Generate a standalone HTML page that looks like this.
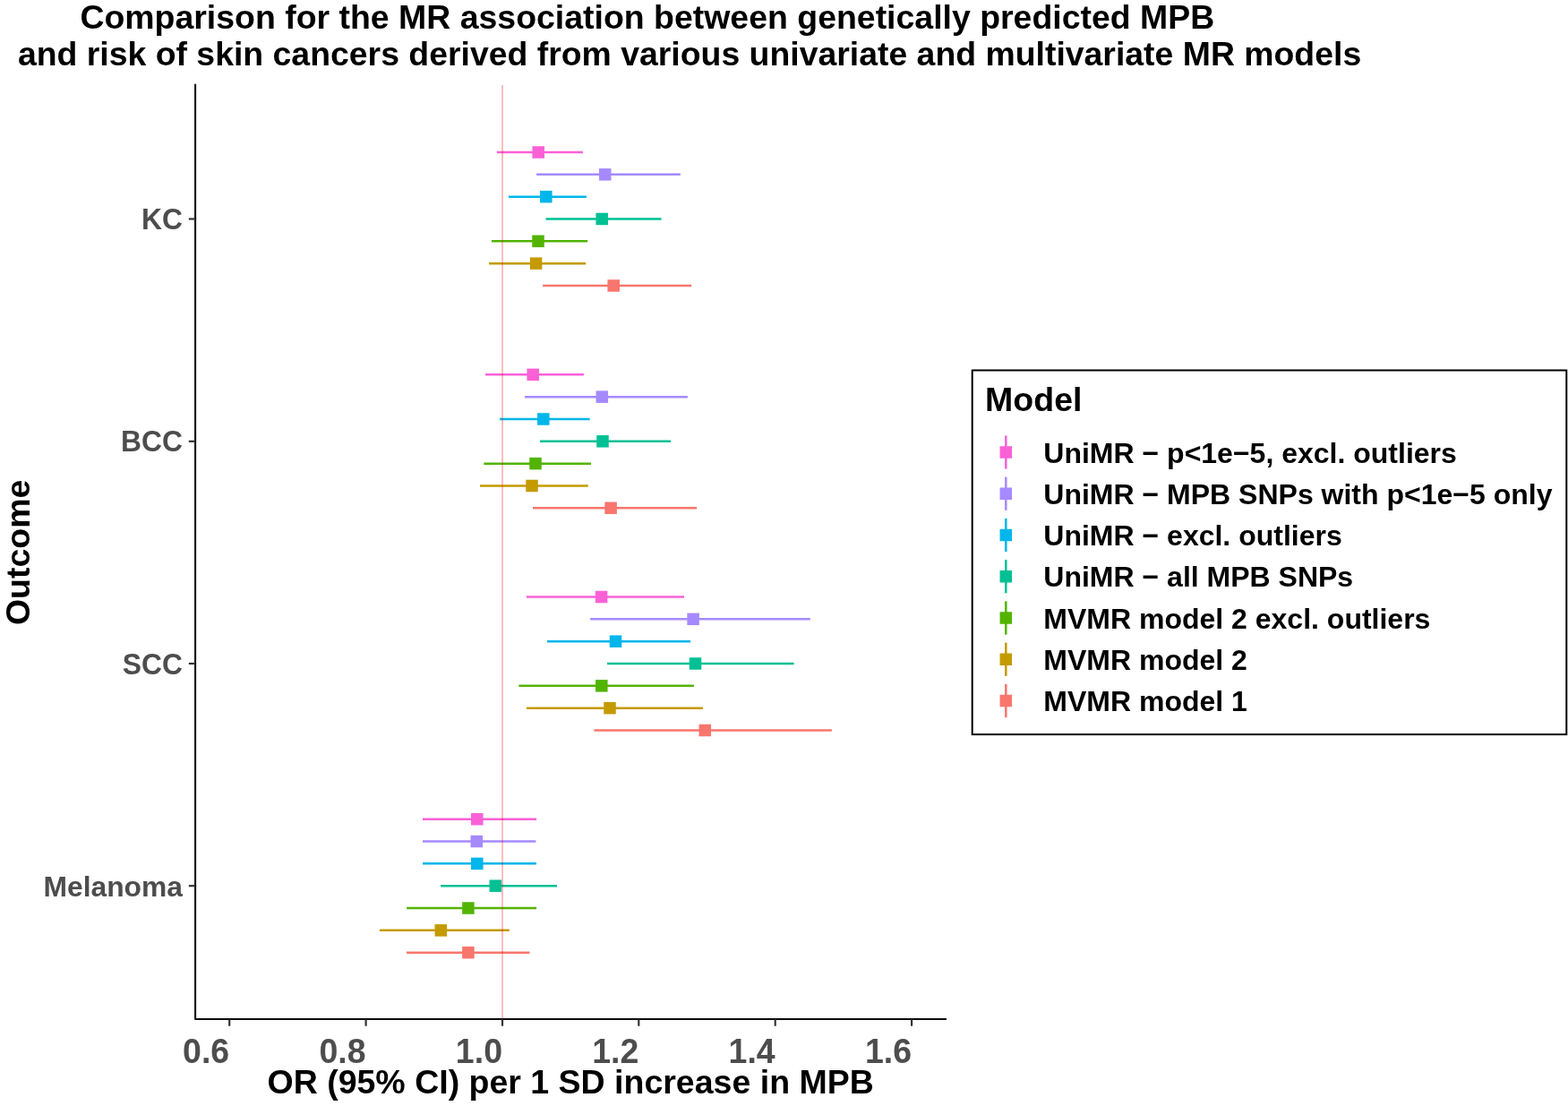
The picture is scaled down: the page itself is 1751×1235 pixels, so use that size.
<!DOCTYPE html><html><head><meta charset="utf-8"><title>MR forest plot</title><style>
html,body{margin:0;padding:0;background:#fff;}body{width:1751px;height:1235px;overflow:hidden;}
svg{display:block;}text{font-family:'Liberation Sans', Arial, Helvetica, sans-serif;font-weight:bold;}
</style></head><body>
<svg width="1751" height="1235" viewBox="0 0 1751 1235">
<rect x="0" y="0" width="1751" height="1235" fill="#fff"/>
<text x="89.4" y="32.4" font-size="37.45" fill="#000">Comparison for the MR association between genetically predicted MPB</text>
<text x="19.9" y="72.6" font-size="37.4" fill="#000">and risk of skin cancers derived from various univariate and multivariate MR models</text>
<g>
<line x1="554.9" y1="170.01" x2="650.9" y2="170.01" stroke="#FB61D7" stroke-width="2.50"/>
<line x1="599.1" y1="194.84" x2="759.8" y2="194.84" stroke="#A58AFF" stroke-width="2.50"/>
<line x1="567.9" y1="219.67" x2="654.9" y2="219.67" stroke="#00B6EB" stroke-width="2.50"/>
<line x1="609.5" y1="244.50" x2="738.5" y2="244.50" stroke="#00C094" stroke-width="2.50"/>
<line x1="549.0" y1="269.33" x2="656.2" y2="269.33" stroke="#53B400" stroke-width="2.50"/>
<line x1="546.1" y1="294.16" x2="654.1" y2="294.16" stroke="#C49A00" stroke-width="2.50"/>
<line x1="606.1" y1="318.99" x2="772.1" y2="318.99" stroke="#F8766D" stroke-width="2.50"/>
<line x1="542.1" y1="418.31" x2="651.9" y2="418.31" stroke="#FB61D7" stroke-width="2.50"/>
<line x1="586.1" y1="443.14" x2="767.9" y2="443.14" stroke="#A58AFF" stroke-width="2.50"/>
<line x1="557.9" y1="467.97" x2="658.6" y2="467.97" stroke="#00B6EB" stroke-width="2.50"/>
<line x1="602.9" y1="492.80" x2="749.1" y2="492.80" stroke="#00C094" stroke-width="2.50"/>
<line x1="540.3" y1="517.63" x2="660.0" y2="517.63" stroke="#53B400" stroke-width="2.50"/>
<line x1="536.0" y1="542.46" x2="656.8" y2="542.46" stroke="#C49A00" stroke-width="2.50"/>
<line x1="595.0" y1="567.29" x2="778.1" y2="567.29" stroke="#F8766D" stroke-width="2.50"/>
<line x1="588.0" y1="666.51" x2="764.0" y2="666.51" stroke="#FB61D7" stroke-width="2.50"/>
<line x1="659.1" y1="691.34" x2="904.8" y2="691.34" stroke="#A58AFF" stroke-width="2.50"/>
<line x1="611.0" y1="716.17" x2="771.0" y2="716.17" stroke="#00B6EB" stroke-width="2.50"/>
<line x1="678.1" y1="741.00" x2="886.6" y2="741.00" stroke="#00C094" stroke-width="2.50"/>
<line x1="579.4" y1="765.83" x2="774.9" y2="765.83" stroke="#53B400" stroke-width="2.50"/>
<line x1="588.0" y1="790.66" x2="784.9" y2="790.66" stroke="#C49A00" stroke-width="2.50"/>
<line x1="663.4" y1="815.49" x2="928.9" y2="815.49" stroke="#F8766D" stroke-width="2.50"/>
<line x1="472.0" y1="914.71" x2="599.0" y2="914.71" stroke="#FB61D7" stroke-width="2.50"/>
<line x1="472.0" y1="939.54" x2="598.4" y2="939.54" stroke="#A58AFF" stroke-width="2.50"/>
<line x1="472.0" y1="964.37" x2="599.0" y2="964.37" stroke="#00B6EB" stroke-width="2.50"/>
<line x1="492.1" y1="989.20" x2="622.0" y2="989.20" stroke="#00C094" stroke-width="2.50"/>
<line x1="454.1" y1="1014.03" x2="599.1" y2="1014.03" stroke="#53B400" stroke-width="2.50"/>
<line x1="423.9" y1="1038.86" x2="568.8" y2="1038.86" stroke="#C49A00" stroke-width="2.50"/>
<line x1="454.1" y1="1063.69" x2="591.5" y2="1063.69" stroke="#F8766D" stroke-width="2.50"/>
<rect x="594.45" y="163.26" width="13.50" height="13.50" fill="#FB61D7"/>
<rect x="668.95" y="188.09" width="13.50" height="13.50" fill="#A58AFF"/>
<rect x="603.05" y="212.92" width="13.50" height="13.50" fill="#00B6EB"/>
<rect x="665.45" y="237.75" width="13.50" height="13.50" fill="#00C094"/>
<rect x="594.25" y="262.58" width="13.50" height="13.50" fill="#53B400"/>
<rect x="591.85" y="287.41" width="13.50" height="13.50" fill="#C49A00"/>
<rect x="678.45" y="312.24" width="13.50" height="13.50" fill="#F8766D"/>
<rect x="588.45" y="411.56" width="13.50" height="13.50" fill="#FB61D7"/>
<rect x="665.55" y="436.39" width="13.50" height="13.50" fill="#A58AFF"/>
<rect x="600.05" y="461.22" width="13.50" height="13.50" fill="#00B6EB"/>
<rect x="666.25" y="486.05" width="13.50" height="13.50" fill="#00C094"/>
<rect x="591.25" y="510.88" width="13.50" height="13.50" fill="#53B400"/>
<rect x="587.25" y="535.71" width="13.50" height="13.50" fill="#C49A00"/>
<rect x="675.35" y="560.54" width="13.50" height="13.50" fill="#F8766D"/>
<rect x="664.85" y="659.76" width="13.50" height="13.50" fill="#FB61D7"/>
<rect x="767.35" y="684.59" width="13.50" height="13.50" fill="#A58AFF"/>
<rect x="680.75" y="709.42" width="13.50" height="13.50" fill="#00B6EB"/>
<rect x="769.75" y="734.25" width="13.50" height="13.50" fill="#00C094"/>
<rect x="665.05" y="759.08" width="13.50" height="13.50" fill="#53B400"/>
<rect x="674.25" y="783.91" width="13.50" height="13.50" fill="#C49A00"/>
<rect x="780.55" y="808.74" width="13.50" height="13.50" fill="#F8766D"/>
<rect x="526.05" y="907.96" width="13.50" height="13.50" fill="#FB61D7"/>
<rect x="525.55" y="932.79" width="13.50" height="13.50" fill="#A58AFF"/>
<rect x="526.05" y="957.62" width="13.50" height="13.50" fill="#00B6EB"/>
<rect x="546.55" y="982.45" width="13.50" height="13.50" fill="#00C094"/>
<rect x="516.15" y="1007.28" width="13.50" height="13.50" fill="#53B400"/>
<rect x="485.55" y="1032.11" width="13.50" height="13.50" fill="#C49A00"/>
<rect x="516.15" y="1056.94" width="13.50" height="13.50" fill="#F8766D"/>
</g>
<line x1="561.0" y1="95" x2="561.0" y2="1138" stroke="#ff0000" stroke-opacity="0.275" stroke-width="1.9"/>
<path d="M218.1 94.6 L218.1 1138 L1056.2 1138" fill="none" stroke="#000" stroke-width="2.05" stroke-linecap="round" stroke-linejoin="round"/>
<line x1="256.2" y1="1138" x2="256.2" y2="1145.7" stroke="#333" stroke-width="2.2"/>
<text transform="translate(256.2 1186.9) scale(1 1.035)" font-size="37.5" fill="#4D4D4D" text-anchor="end">0.6</text>
<line x1="408.6" y1="1138" x2="408.6" y2="1145.7" stroke="#333" stroke-width="2.2"/>
<text transform="translate(408.6 1186.9) scale(1 1.035)" font-size="37.5" fill="#4D4D4D" text-anchor="end">0.8</text>
<line x1="561.0" y1="1138" x2="561.0" y2="1145.7" stroke="#333" stroke-width="2.2"/>
<text transform="translate(561.0 1186.9) scale(1 1.035)" font-size="37.5" fill="#4D4D4D" text-anchor="end">1.0</text>
<line x1="713.3" y1="1138" x2="713.3" y2="1145.7" stroke="#333" stroke-width="2.2"/>
<text transform="translate(713.3 1186.9) scale(1 1.035)" font-size="37.5" fill="#4D4D4D" text-anchor="end">1.2</text>
<line x1="865.7" y1="1138" x2="865.7" y2="1145.7" stroke="#333" stroke-width="2.2"/>
<text transform="translate(865.7 1186.9) scale(1 1.035)" font-size="37.5" fill="#4D4D4D" text-anchor="end">1.4</text>
<line x1="1018.1" y1="1138" x2="1018.1" y2="1145.7" stroke="#333" stroke-width="2.2"/>
<text transform="translate(1018.1 1186.9) scale(1 1.035)" font-size="37.5" fill="#4D4D4D" text-anchor="end">1.6</text>
<line x1="210.8" y1="244.5" x2="218" y2="244.5" stroke="#333" stroke-width="2.2"/>
<text transform="translate(204 256.0) scale(1 1.035)" font-size="31.8" fill="#4D4D4D" text-anchor="end">KC</text>
<line x1="210.8" y1="492.8" x2="218" y2="492.8" stroke="#333" stroke-width="2.2"/>
<text transform="translate(204 504.3) scale(1 1.035)" font-size="31.8" fill="#4D4D4D" text-anchor="end">BCC</text>
<line x1="210.8" y1="741.0" x2="218" y2="741.0" stroke="#333" stroke-width="2.2"/>
<text transform="translate(204 752.5) scale(1 1.035)" font-size="31.8" fill="#4D4D4D" text-anchor="end">SCC</text>
<line x1="210.8" y1="989.2" x2="218" y2="989.2" stroke="#333" stroke-width="2.2"/>
<text transform="translate(204 1000.7) scale(1 1.000)" font-size="31.8" fill="#4D4D4D" text-anchor="end">Melanoma</text>
<text x="298.5" y="1221" font-size="37.5" fill="#000">OR (95% CI) per 1 SD increase in MPB</text>
<text transform="translate(32.6 698.1) rotate(-90)" x="0" y="0" font-size="37.5" fill="#000">Outcome</text>
<rect x="1085.7" y="413.5" width="663.6" height="406.6" fill="#fff" stroke="#000" stroke-width="2.0"/>
<text x="1100.1" y="458.8" font-size="37.5" fill="#000">Model</text>
<line x1="1123.3" y1="486.40" x2="1123.3" y2="523.60" stroke="#FB61D7" stroke-width="2.50"/>
<rect x="1116.55" y="498.25" width="13.50" height="13.50" fill="#FB61D7"/>
<text x="1165.3" y="516.50" font-size="32" fill="#000">UniMR − p&lt;1e−5, excl. outliers</text>
<line x1="1123.3" y1="532.65" x2="1123.3" y2="569.85" stroke="#A58AFF" stroke-width="2.50"/>
<rect x="1116.55" y="544.50" width="13.50" height="13.50" fill="#A58AFF"/>
<text x="1165.3" y="562.75" font-size="32" fill="#000">UniMR − MPB SNPs with p&lt;1e−5 only</text>
<line x1="1123.3" y1="578.90" x2="1123.3" y2="616.10" stroke="#00B6EB" stroke-width="2.50"/>
<rect x="1116.55" y="590.75" width="13.50" height="13.50" fill="#00B6EB"/>
<text x="1165.3" y="609.00" font-size="32" fill="#000">UniMR − excl. outliers</text>
<line x1="1123.3" y1="625.15" x2="1123.3" y2="662.35" stroke="#00C094" stroke-width="2.50"/>
<rect x="1116.55" y="637.00" width="13.50" height="13.50" fill="#00C094"/>
<text x="1165.3" y="655.25" font-size="32" fill="#000">UniMR − all MPB SNPs</text>
<line x1="1123.3" y1="671.40" x2="1123.3" y2="708.60" stroke="#53B400" stroke-width="2.50"/>
<rect x="1116.55" y="683.25" width="13.50" height="13.50" fill="#53B400"/>
<text x="1165.3" y="701.50" font-size="32" fill="#000">MVMR model 2 excl. outliers</text>
<line x1="1123.3" y1="717.65" x2="1123.3" y2="754.85" stroke="#C49A00" stroke-width="2.50"/>
<rect x="1116.55" y="729.50" width="13.50" height="13.50" fill="#C49A00"/>
<text x="1165.3" y="747.75" font-size="32" fill="#000">MVMR model 2</text>
<line x1="1123.3" y1="763.90" x2="1123.3" y2="801.10" stroke="#F8766D" stroke-width="2.50"/>
<rect x="1116.55" y="775.75" width="13.50" height="13.50" fill="#F8766D"/>
<text x="1165.3" y="794.00" font-size="32" fill="#000">MVMR model 1</text>
</svg></body></html>
